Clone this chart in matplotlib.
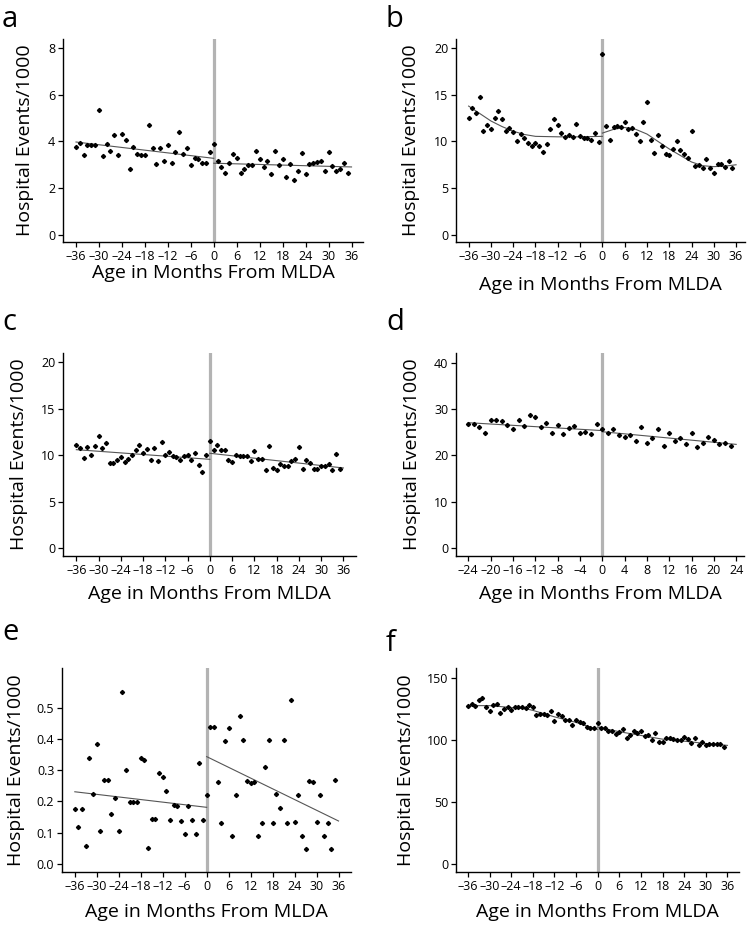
import matplotlib.pyplot as plt
from matplotlib.ticker import FuncFormatter

plt.rcParams["font.family"] = ["Open Sans", "DejaVu Sans"]

OUTPUT_FILE = "out.png"
W, H = 751, 926

months = list(range(-36, 36))
months_d = list(range(-24, 24))

# panel a
a_y = [3.76, 3.94, 3.43, 3.86, 3.86, 3.86, 5.35, 3.38, 3.87, 3.58, 4.29, 3.41,
       4.30, 4.07, 2.81, 3.74, 3.46, 3.43, 3.43, 4.70, 3.73, 3.01, 3.70, 3.14,
       3.86, 3.05, 3.53, 4.39, 3.47, 3.73, 2.98, 3.27, 3.23, 3.05, 3.05, 3.56,
       3.90, 3.15, 2.90, 2.64, 3.07, 3.46, 3.30, 2.64, 2.82, 2.97, 3.00, 3.60,
       3.23, 2.91, 3.17, 2.58, 3.60, 2.98, 3.25, 2.48, 3.01, 2.35, 2.72, 3.51,
       2.61, 3.01, 3.05, 3.13, 3.14, 2.74, 3.56, 2.94, 2.72, 2.80, 3.08, 2.62]
a_fit = [([-36, 0], [3.97, 3.27]), ([0, 36], [3.06, 2.90])]

# panel b
b_y = [12.49, 13.63, 13.02, 14.74, 11.16, 11.77, 11.38, 12.56, 13.31, 12.42, 11.16, 11.48,
       11.02, 10.02, 10.84, 10.38, 9.84, 9.52, 9.84, 9.48, 8.84, 9.73, 11.31, 12.38,
       11.77, 10.88, 10.45, 10.66, 10.45, 11.88, 10.55, 10.41, 10.41, 10.13, 10.91, 9.95,
       19.39, 11.63, 10.20, 11.56, 11.66, 11.52, 12.09, 11.34, 11.48, 10.77, 10.09, 12.09,
       14.27, 10.16, 8.80, 10.70, 9.48, 8.69, 8.52, 9.16, 10.09, 9.05, 8.69, 8.23,
       11.09, 7.41, 7.51, 7.12, 8.16, 7.16, 6.58, 7.55, 7.62, 7.23, 7.91, 7.12]
b_fit = [([-36, -33, -30, -27, -24, -21, -18, -12, -6, 0],
          [13.8, 13.0, 12.2, 11.6, 11.1, 10.75, 10.55, 10.5, 10.5, 10.55]),
         ([0, 3, 6, 9, 12, 15, 18, 21, 24, 27, 30, 33, 36],
          [10.9, 11.3, 11.5, 11.3, 10.8, 10.0, 9.2, 8.5, 7.8, 7.4, 7.3, 7.35, 7.5])]

# panel c
c_y = [11.06, 10.77, 9.66, 10.88, 10.02, 10.95, 12.03, 10.77, 11.31, 9.19, 9.19, 9.44,
       9.84, 9.23, 9.59, 10.05, 10.56, 11.13, 10.27, 10.66, 9.52, 10.77, 9.41, 11.38,
       10.02, 10.34, 9.91, 9.77, 9.44, 9.95, 9.98, 9.52, 10.23, 8.94, 8.19, 10.05,
       11.53, 10.59, 11.06, 10.56, 10.52, 9.52, 9.30, 10.05, 9.87, 9.91, 9.91, 9.37,
       10.45, 9.59, 9.55, 8.40, 10.99, 8.65, 8.44, 9.08, 8.87, 8.87, 9.41, 9.62,
       10.84, 8.51, 9.48, 9.16, 8.51, 8.51, 8.80, 8.87, 9.05, 8.37, 10.16, 8.51]
c_fit = [([-36, 0], [10.59, 9.55]), ([0, 36], [10.20, 8.62])]

# panel d
d_y = [26.83, 26.69, 26.12, 24.75, 27.70, 27.63, 27.48, 26.62, 25.76, 27.55, 26.33, 28.63,
       28.27, 26.04, 26.98, 24.75, 26.47, 24.53, 25.97, 26.26, 24.82, 24.96, 24.53, 26.69,
       25.68, 24.75, 25.61, 24.32, 23.96, 24.39, 23.17, 26.12, 22.59, 23.74, 25.68, 22.09,
       24.89, 23.02, 23.74, 22.45, 24.82, 21.73, 22.73, 23.96, 23.31, 22.52, 22.66, 22.01]
d_fit = [([-24, 0], [27.05, 25.35]), ([0, 24], [25.10, 22.37])]

# panel e
e_y = [0.176, 0.118, 0.175, 0.058, 0.340, 0.223, 0.384, 0.105, 0.269, 0.269, 0.158, 0.210,
       0.104, 0.553, 0.301, 0.198, 0.198, 0.197, 0.339, 0.333, 0.049, 0.144, 0.144, 0.290,
       0.280, 0.235, 0.140, 0.188, 0.185, 0.138, 0.094, 0.186, 0.140, 0.094, 0.323, 0.139,
       0.222, 0.440, 0.440, 0.262, 0.130, 0.394, 0.437, 0.089, 0.220, 0.474, 0.396, 0.267,
       0.258, 0.262, 0.088, 0.132, 0.311, 0.398, 0.132, 0.223, 0.178, 0.396, 0.132, 0.526,
       0.133, 0.220, 0.088, 0.047, 0.267, 0.262, 0.133, 0.222, 0.089, 0.132, 0.047, 0.268]
e_fit = [([-36, 0], [0.231, 0.181]), ([0, 36], [0.344, 0.137])]

# panel f
f_y = [127.2, 129.0, 127.2, 131.7, 133.3, 126.1, 122.8, 128.0, 128.8, 121.8, 124.7, 126.1,
       124.2, 126.1, 126.1, 126.1, 125.5, 128.2, 126.6, 119.6, 121.0, 120.7, 119.6, 123.1,
       114.8, 120.7, 119.1, 115.9, 116.1, 112.1, 115.6, 114.0, 113.7, 110.5, 109.4, 109.1,
       113.2, 109.7, 109.1, 107.0, 107.3, 104.8, 106.2, 108.3, 101.6, 103.8, 107.0, 105.1,
       107.0, 102.7, 103.8, 99.5, 105.1, 98.1, 98.1, 101.3, 101.3, 100.3, 99.5, 100.0,
       102.2, 100.3, 97.3, 101.1, 96.2, 98.1, 95.7, 97.0, 97.0, 97.0, 96.8, 94.4]
f_fit = [([-36, -30, -24, -20, -18, -12, -6, 0],
          [127.5, 127.5, 126.0, 125.0, 123.7, 118.5, 114.0, 108.3]),
         ([0, 6, 12, 18, 24, 30, 36],
          [110.2, 106.5, 103.5, 100.5, 98.9, 97.0, 95.5])]

xticks_36 = [-36, -30, -24, -18, -12, -6, 0, 6, 12, 18, 24, 30, 36]
xticks_24 = [-24, -20, -16, -12, -8, -4, 0, 4, 8, 12, 16, 20, 24]

# name, x, y, fit, box(l, t, r, b px), xlim, ylim, yticks, xticks, letter pos, ylabel dx px, xlabel dy px
panels = [
    ("a", months, a_y, a_fit, (63, 39, 363, 242), (-39.4, 39.0), (-0.32, 8.39),
     [0, 2, 4, 6, 8], xticks_36, (2, 27), -38, 31),
    ("b", months, b_y, b_fit, (456, 39, 745, 242), (-39.4, 38.4), (-0.79, 21.0),
     [0, 5, 10, 15, 20], xticks_36, (386, 27), -45, 43),
    ("c", months, c_y, c_fit, (63, 353, 356, 556), (-39.6, 39.4), (-0.86, 21.0),
     [0, 5, 10, 15, 20], xticks_36, (2, 330), -44, 38),
    ("d", months_d, d_y, d_fit, (456, 353, 744, 556), (-26.2, 25.4), (-1.73, 42.1),
     [0, 10, 20, 30, 40], xticks_24, (386, 330), -44, 38),
    ("e", months, e_y, e_fit, (62, 668, 351, 872), (-39.5, 39.4), (-0.027, 0.629),
     [0.0, 0.1, 0.2, 0.3, 0.4, 0.5], xticks_36, (2, 640), -46, 40),
    ("f", months, f_y, f_fit, (456, 668, 739, 872), (-39.3, 39.2), (-6.45, 157.8),
     [0, 50, 100, 150], xticks_36, (386, 651), -50, 40),
]

fig = plt.figure(figsize=(W / 100, H / 100), dpi=100)

for letter, xs, ys, fits, box, xlim, ylim, yticks, xticks, lpos, ydx, xdy in panels:
    l, t, r, b = box
    ax = fig.add_axes([l / W, 1 - b / H, (r - l) / W, (b - t) / H])
    ax.axvline(0, color="#b3b3b3", linewidth=2.3, zorder=1)
    for fx, fy in fits:
        ax.plot(fx, fy, color="#555555", linewidth=0.8, zorder=2)
    ax.plot(xs, ys, linestyle="none", marker="D", markersize=2.1,
            color="black", zorder=3)
    ax.set_xlim(*xlim)
    ax.set_ylim(*ylim)
    ax.set_xticks(xticks)
    ax.set_yticks(yticks)
    if letter == "e":
        ax.yaxis.set_major_formatter(FuncFormatter(lambda v, p: f"{v:.1f}"))
    else:
        ax.yaxis.set_major_formatter(FuncFormatter(lambda v, p: f"{v:g}"))
    ax.xaxis.set_major_formatter(FuncFormatter(lambda v, p: f"{v:g}".replace("-", "\u2013")))
    for s in ("top", "right"):
        ax.spines[s].set_visible(False)
    for s in ("left", "bottom"):
        ax.spines[s].set_linewidth(1.0)
    ax.tick_params(direction="out", length=3.5, width=0.9, labelsize=9, pad=2)
    ax.set_ylabel("Hospital Events/1000", fontsize=14, va="center")
    ax.yaxis.set_label_coords(ydx / (r - l), 0.5)
    ax.set_xlabel("Age in Months From MLDA", fontsize=14, va="center")
    ax.xaxis.set_label_coords(0.5, -xdy / (b - t))
    fig.text(lpos[0] / W, 1 - lpos[1] / H, letter, fontsize=21, ha="left", va="baseline")

plt.savefig(OUTPUT_FILE, dpi=100)
